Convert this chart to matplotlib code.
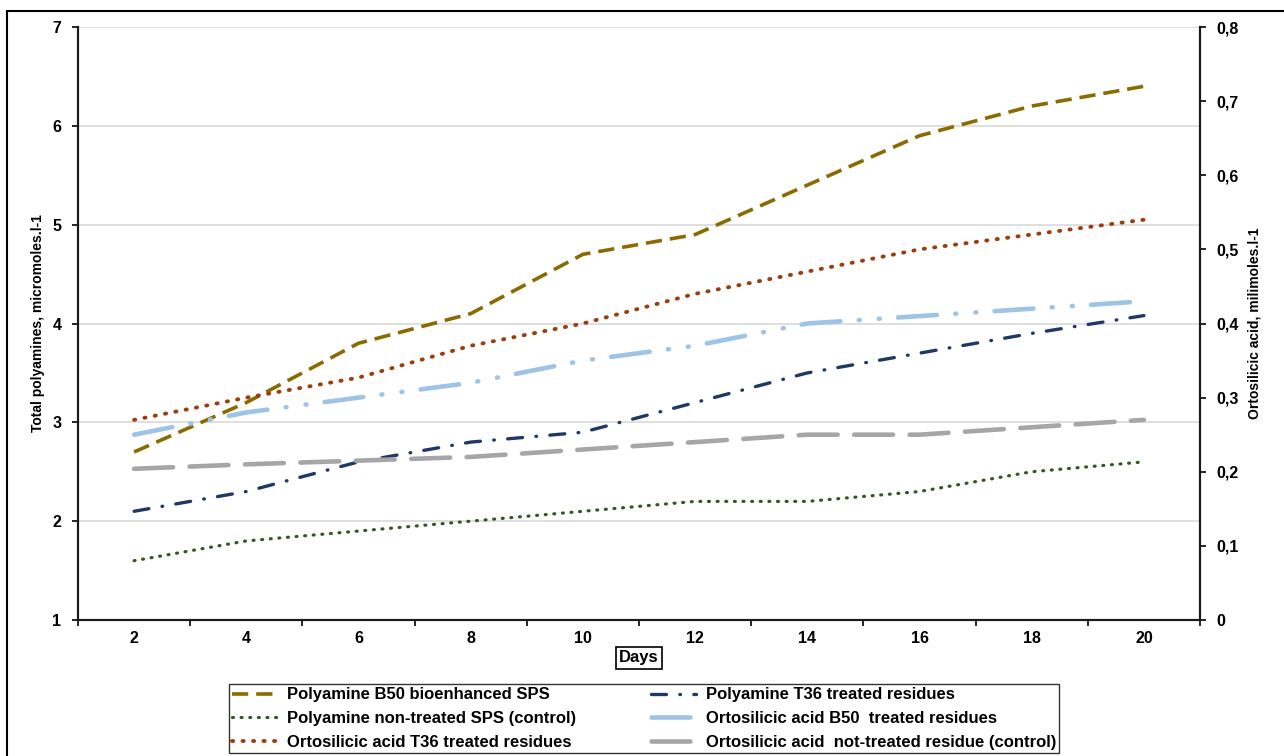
import matplotlib
matplotlib.use("Agg")
import matplotlib.pyplot as plt
from matplotlib.patches import Rectangle
from matplotlib.ticker import FixedLocator, FuncFormatter, NullFormatter

plt.rcParams['font.family'] = ['Liberation Sans', 'DejaVu Sans']
plt.rcParams['font.weight'] = 'bold'

days = [2, 4, 6, 8, 10, 12, 14, 16, 18, 20]
# Left axis (Total polyamines, micromoles.l-1)
poly_b50 = [2.7, 3.2, 3.8, 4.1, 4.7, 4.9, 5.4, 5.9, 6.2, 6.4]
poly_ctrl = [1.6, 1.8, 1.9, 2.0, 2.1, 2.2, 2.2, 2.3, 2.5, 2.6]
poly_t36 = [2.1, 2.3, 2.6, 2.8, 2.9, 3.2, 3.5, 3.7, 3.9, 4.08]
# Right axis (Ortosilicic acid, milimoles.l-1)
si_t36 = [0.27, 0.30, 0.327, 0.37, 0.40, 0.44, 0.47, 0.50, 0.52, 0.54]
si_b50 = [0.25, 0.28, 0.30, 0.32, 0.35, 0.37, 0.40, 0.41, 0.42, 0.43]
si_ctrl = [0.204, 0.21, 0.215, 0.22, 0.23, 0.24, 0.25, 0.25, 0.26, 0.27]

labels = ["Polyamine B50 bioenhanced SPS",
          "Polyamine non-treated SPS (control)",
          "Ortosilicic acid T36 treated residues",
          "Polyamine T36 treated residues",
          "Ortosilicic acid B50  treated residues",
          "Ortosilicic acid  not-treated residue (control)"]

W, H = 1284, 756
fig = plt.figure(figsize=(W / 100, H / 100), dpi=100)
ax = fig.add_axes([78 / W, 1 - 620 / H, (1200 - 78) / W, (620 - 27) / H])
ax2 = ax.twinx()

c_gold = '#8B6B00'
c_green = '#375623'
c_brown = '#9C3D0B'
c_dblue = '#1F3864'
c_lblue = '#9DC3E6'
c_gray = '#A6A6A6'

l1, = ax.plot(days, poly_b50, color=c_gold, lw=2.6, dashes=(4.5, 2.2), zorder=5)
l2, = ax.plot(days, poly_ctrl, color=c_green, lw=2.3, dashes=(0.3, 2.4),
              dash_capstyle='round', zorder=5)
l4, = ax.plot(days, poly_t36, color=c_dblue, lw=2.4, dashes=(4.5, 4.0, 0.2, 4.0),
              dash_capstyle='round', zorder=5)
l3, = ax2.plot(days, si_t36, color=c_brown, lw=2.8, dashes=(0.3, 2.4),
               dash_capstyle='round', zorder=5)
l5, = ax2.plot(days, si_b50, color=c_lblue, lw=3.3, dashes=(8.5, 4.0, 0.2, 4.2, 0.2, 4.0),
               dash_capstyle='round', zorder=5)
l6, = ax2.plot(days, si_ctrl, color=c_gray, lw=3.3, dashes=(8.5, 3.6),
               dash_capstyle='round', zorder=5)

ax.set_xlim(1, 21)
ax.set_ylim(1, 7)
ax2.set_ylim(0, 0.8)

ax.xaxis.set_major_locator(FixedLocator([1, 3, 5, 7, 9, 11, 13, 15, 17, 19, 21]))
ax.xaxis.set_major_formatter(NullFormatter())
ax.xaxis.set_minor_locator(FixedLocator(days))
ax.xaxis.set_minor_formatter(FuncFormatter(lambda v, p: f"{int(v)}"))
ax.tick_params(axis='x', which='major', direction='out', length=4, width=1.2)
ax.tick_params(axis='x', which='minor', length=0, pad=8, labelsize=11.5)

ax.set_yticks([1, 2, 3, 4, 5, 6, 7])
ax.tick_params(axis='y', direction='out', length=4, width=1.2, pad=8, labelsize=11.5)
ax2.set_yticks([0, 0.1, 0.2, 0.3, 0.4, 0.5, 0.6, 0.7, 0.8])
ax2.yaxis.set_major_formatter(FuncFormatter(
    lambda v, p: '0' if abs(v) < 1e-9 else f"{v:.1f}".replace('.', ',')))
ax2.tick_params(axis='y', direction='out', length=4, width=1.2, pad=8, labelsize=11.5)

ax.grid(axis='y', color='#D9D9D9', lw=1.2, zorder=0)
ax.set_axisbelow(True)

for a in (ax, ax2):
    a.spines['top'].set_visible(False)
    for s in ('left', 'right', 'bottom'):
        a.spines[s].set_linewidth(1.5)
        a.spines[s].set_color('#1a1a1a')

ax.set_ylabel("Total polyamines, micromoles.l-1", fontsize=10, fontweight='bold', labelpad=5)
ax2.set_ylabel("Ortosilicic acid, milimoles.l-1", fontsize=10, fontweight='bold',
               rotation=90, labelpad=6)
ax.set_xlabel("Days", fontsize=12, fontweight='bold', labelpad=3,
              bbox=dict(boxstyle='square,pad=0.2', fc='white', ec='black', lw=1.2))

leg = fig.legend([l1, l2, l3, l4, l5, l6], labels, ncol=2,
                 loc='upper left', bbox_to_anchor=(229 / W, 1 - 684 / H),
                 frameon=True, fancybox=False, edgecolor='black',
                 fontsize=12, handlelength=2.7, handletextpad=0.6, labelspacing=0.52,
                 columnspacing=4.45, borderpad=0.2, borderaxespad=0)
leg.get_frame().set_linewidth(1.0)
for t in leg.get_texts():
    t.set_fontweight('bold')

fig.patches.append(Rectangle((7 / W, -0.02), 1.1, 1 - 11 / H + 0.02, transform=fig.transFigure,
                             fill=False, ec='black', lw=1.5))

fig.savefig("out.png", dpi=100)
